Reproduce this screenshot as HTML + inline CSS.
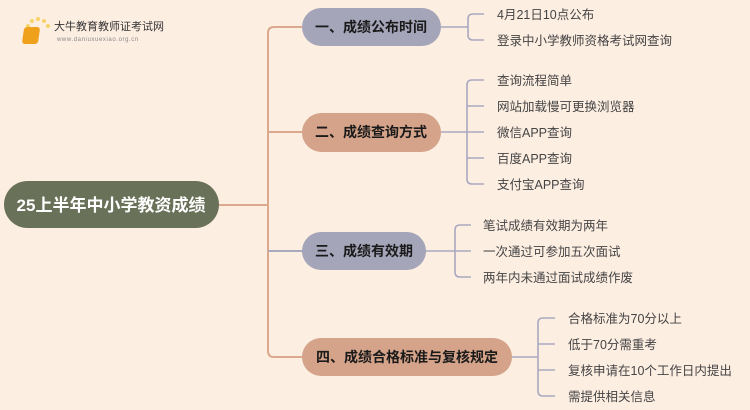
<!DOCTYPE html>
<html><head><meta charset="utf-8"><style>
html,body{margin:0;padding:0;background:#fdeee2;}
svg{display:block;font-family:"Liberation Sans","Noto Sans CJK SC",sans-serif;}
</style></head><body>
<svg width="750" height="410" viewBox="0 0 750 410" xmlns="http://www.w3.org/2000/svg">
<rect width="750" height="410" fill="#fdeee2"/>
<g>
<circle cx="28" cy="26" r="2" fill="#f7d36a"/><circle cx="32" cy="21" r="2" fill="#f7d36a"/><circle cx="38" cy="19" r="2" fill="#f7d36a"/><circle cx="44" cy="21" r="2" fill="#f7d36a"/><circle cx="48" cy="26" r="2" fill="#f7d36a"/>
<rect x="28" y="27" width="16" height="17" rx="3" fill="#f0a11c" transform="skewX(-8)"/>
<text x="54" y="30" font-size="11" fill="#333">大牛教育教师证考试网</text>
<text x="57" y="41" font-size="6" fill="#888" letter-spacing="0.6">www.daniuxuexiao.org.cn</text>
</g>
<g fill="none" stroke-width="2">
<path d="M219 205 H268" stroke="#dca98c"/>
<path d="M302 27 H274 Q268 27 268 33 V351 Q268 357 274 357 H302" stroke="#dca98c"/>
<path d="M268 132 H302" stroke="#dca98c"/>
<path d="M268 251 H302" stroke="#a9a9c0"/>
</g>
<g fill="none" stroke="#a9a9c0" stroke-width="1.6">
<path d="M441 27 H468"/><path d="M484 14 H473 Q468 14 468 19 V35 Q468 40 473 40 H484"/>
<path d="M441 132 H467"/><path d="M484 80 H472 Q467 80 467 85 V179 Q467 184 472 184 H484 M467 106 H484 M467 132 H484 M467 158 H484"/>
<path d="M426 251 H455"/><path d="M471 225 H460 Q455 225 455 230 V272 Q455 277 460 277 H471 M455 251 H471"/>
<path d="M512 357 H538"/><path d="M555 318 H543 Q538 318 538 323 V391 Q538 396 543 396 H555 M538 344 H555 M538 370 H555"/>
</g>
<rect x="4" y="181" width="215" height="47" rx="23.5" fill="#6a7159"/>
<text x="111" y="211" font-size="17" font-weight="bold" fill="#fff" text-anchor="middle">25上半年中小学教资成绩</text>
<rect x="302" y="8" width="139" height="38" rx="19" fill="#a5a5b9"/>
<text x="371" y="32" font-size="14" font-weight="bold" fill="#1a1a1a" text-anchor="middle">一、成绩公布时间</text>
<rect x="302" y="113" width="139" height="39" rx="19.5" fill="#d4a389"/>
<text x="371" y="137" font-size="14" font-weight="bold" fill="#1a1a1a" text-anchor="middle">二、成绩查询方式</text>
<rect x="302" y="232" width="124" height="38" rx="19" fill="#a5a5b9"/>
<text x="364" y="256" font-size="14" font-weight="bold" fill="#1a1a1a" text-anchor="middle">三、成绩有效期</text>
<rect x="302" y="338" width="210" height="38" rx="19" fill="#d4a389"/>
<text x="407" y="362" font-size="14" font-weight="bold" fill="#1a1a1a" text-anchor="middle">四、成绩合格标准与复核规定</text>
<g font-size="12.5" fill="#444">
<text x="497" y="19">4月21日10点公布</text>
<text x="497" y="45">登录中小学教师资格考试网查询</text>
<text x="497" y="85">查询流程简单</text>
<text x="497" y="111">网站加载慢可更换浏览器</text>
<text x="497" y="137">微信APP查询</text>
<text x="497" y="163">百度APP查询</text>
<text x="497" y="189">支付宝APP查询</text>
<text x="483" y="230">笔试成绩有效期为两年</text>
<text x="483" y="256">一次通过可参加五次面试</text>
<text x="483" y="282">两年内未通过面试成绩作废</text>
<text x="568" y="323">合格标准为70分以上</text>
<text x="568" y="349">低于70分需重考</text>
<text x="568" y="375">复核申请在10个工作日内提出</text>
<text x="568" y="401">需提供相关信息</text>
</g>
</svg>
</body></html>
